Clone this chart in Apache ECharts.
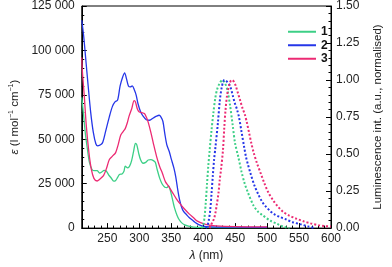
<!DOCTYPE html>
<html>
<head>
<meta charset="utf-8">
<script src="https://cdn.jsdelivr.net/npm/echarts@6/dist/echarts.min.js"></script>
<style>html,body{margin:0;padding:0;background:#fff}#c{width:392px;height:267px}</style>
</head>
<body>
<div id="c"></div>
<script>
// Absorption spectra: [wavelength nm, epsilon l mol-1 cm-1]
const abs1 = [[210,73600],[213,63000],[216,52000],[219,44000],[222,37000],[226,33000],[230,32300],[234,32300],[238,31000],[241,31500],[245,32500],[248,32300],[252,30000],[256,28200],[260,26400],[263,26800],[266,28500],[269,30200],[273,30500],[276,32000],[278,34800],[282,33900],[285,35000],[288,38000],[291,43000],[294,47700],[296,47000],[299,42200],[302,38500],[306,36500],[310,37000],[314,38300],[318,38500],[322,38000],[325,37000],[328,33000],[332,28000],[336,24700],[340,23000],[343,22800],[346,23800],[348,22000],[350,19200],[353,14500],[355,11500],[359,7200],[362,5000],[366,3100],[371,1800],[377,1100],[385,600],[400,400],[450,300],[500,300]];
const abs2 = [[210,117000],[213,108000],[216,96000],[220,80000],[224,65000],[228,54000],[232,47500],[235,46300],[240,47000],[243,48500],[247,54000],[253,62500],[258,68500],[262,71000],[266,72000],[270,80000],[274,85000],[277,87400],[280,84000],[283,80000],[286,79500],[289,80000],[292,78000],[295,75000],[298,70000],[302,65500],[306,63000],[311,61000],[316,60700],[322,62000],[327,63000],[331,63500],[334,62500],[337,60000],[340,53000],[343,47000],[347,43000],[350,39000],[354,34000],[357,29000],[360,22000],[363,16000],[366,12000],[369,9500],[374,7500],[378,6000],[383,4500],[387,3300],[393,2000],[400,1100],[410,700],[450,500],[500,400]];
const abs3 = [[210,96000],[211,88000],[214,74000],[217,58000],[221,43000],[225,33000],[229,28000],[234,26500],[238,27500],[244,29500],[249,34000],[253,38500],[258,40500],[263,42500],[267,47000],[271,52400],[275,54500],[278,56000],[281,59000],[284,63000],[288,67000],[292,71700],[294,71000],[297,67000],[300,65300],[304,65000],[308,64500],[311,62500],[314,59500],[318,54000],[322,47700],[327,40400],[332,34500],[336,31000],[341,26000],[346,23500],[352,20000],[358,16500],[364,13600],[370,11000],[378,8000],[385,5800],[391,3900],[400,2500],[410,1700],[420,1200],[450,800],[500,700]];
// Emission spectra: [wavelength nm, normalised intensity]
const em1 = [[397,0],[400,0.02],[402,0.07],[404,0.17],[406,0.3],[408,0.42],[410,0.52],[413,0.66],[416,0.78],[419,0.88],[422,0.94],[426,0.98],[430,1.0],[434,0.98],[438,0.93],[442,0.83],[446,0.7],[450,0.57],[455,0.48],[460,0.38],[465,0.3],[470,0.24],[479,0.15],[486,0.11],[492,0.09],[505,0.05],[515,0.03],[525,0.01],[535,0]];
const em2 = [[404,0],[407,0.02],[409,0.06],[411,0.12],[413,0.23],[415,0.35],[417,0.46],[419,0.54],[423,0.71],[426,0.86],[429,0.95],[433,1.0],[437,0.99],[442,0.96],[446,0.9],[449,0.85],[453,0.8],[456,0.75],[460,0.65],[464,0.55],[467,0.48],[470,0.43],[474,0.37],[480,0.29],[486,0.23],[492,0.18],[497,0.15],[505,0.115],[511,0.095],[520,0.075],[530,0.058],[540,0.04],[553,0.025],[565,0.01],[575,0]];
const em3 = [[410,0],[412,0.02],[415,0.045],[417,0.064],[419,0.1],[421,0.15],[424,0.24],[426,0.33],[428,0.4],[431,0.53],[433,0.68],[435,0.8],[437.5,0.9],[441,0.97],[444.5,1.0],[448,0.99],[451,0.96],[454.5,0.91],[458,0.86],[461.5,0.81],[465,0.77],[468.5,0.71],[472,0.64],[475.5,0.57],[479,0.51],[484,0.44],[490,0.37],[496,0.3],[502,0.24],[509,0.19],[516,0.15],[525,0.11],[534,0.086],[545,0.065],[557,0.046],[568,0.032],[580,0.02],[590,0.014],[600,0.01]];
const names = ['1','2','3'];
const colors = ['#3ccf86','#2536e8','#ec2a73'];
const xMajorTicks = [250,300,350,400,450,500,550,600];

const font = 'Liberation Sans, Arial, sans-serif';
const chart = echarts.init(document.getElementById('c'), null, {renderer:'canvas'});
const fmtEps = v => String(v).replace(/\B(?=(\d{3})+(?!\d))/g, ' ');
const lineBase = {type:'line', symbol:'none', smooth:0.3, animation:false};
const absSeries = [abs1,abs2,abs3].map((d,i)=>Object.assign({}, lineBase, {
  name:names[i], data:d, xAxisIndex:0, yAxisIndex:0,
  lineStyle:{color:colors[i], width:1.3}, itemStyle:{color:colors[i]}
}));
const emSeries = [em1,em2,em3].map((d,i)=>Object.assign({}, lineBase, {
  name:'em'+names[i], data:d, xAxisIndex:0, yAxisIndex:1,
  lineStyle:{color:colors[i], width:2, type:'dotted'}, itemStyle:{color:colors[i]}
}));
chart.setOption({
  animation:false,
  textStyle:{fontFamily:font},
  grid:{left:62, right:47, top:6, bottom:34, show:true, borderColor:'#000', borderWidth:1, backgroundColor:'transparent'},
  legend:{
    data:names, orient:'vertical', left:283, top:20, itemWidth:28, itemHeight:2, icon:'rect', itemGap:0,
    textStyle:{fontFamily:font, fontSize:12, fontWeight:'bold', color:'#111', lineHeight:13.5}
  },
  xAxis:[{
    type:'value', min:210, max:600, interval:10, position:'bottom',
    axisLine:{lineStyle:{color:'#000', width:1}},
    axisTick:{inside:true, length:2.5, lineStyle:{color:'#000'}},
    axisLabel:{margin:5, color:'#222', fontSize:12, fontFamily:font, formatter:v=> (v%50===0 ? String(v) : '')},
    splitLine:{show:false},
    name:'{i|λ} (nm)', nameLocation:'middle', nameGap:20,
    nameTextStyle:{fontSize:12, color:'#222', fontFamily:font, rich:{i:{fontStyle:'italic', fontSize:12, fontFamily:font, color:'#222'}}}
  },{
    type:'value', min:210, max:600, position:'bottom',
    axisLine:{show:false},
    axisTick:{show:true, inside:true, length:5, customValues:xMajorTicks, lineStyle:{color:'#000'}},
    axisLabel:{show:false}, splitLine:{show:false}
  }],
  yAxis:[{
    type:'value', min:0, max:125000, interval:25000, position:'left',
    axisLine:{show:true, lineStyle:{color:'#000', width:1}},
    axisTick:{inside:true, length:5, lineStyle:{color:'#000'}},
    minorTick:{show:true, splitNumber:5, length:2.5, lineStyle:{color:'#000'}},
    axisLabel:{margin:7, color:'#222', fontSize:12, fontFamily:font, formatter:fmtEps},
    splitLine:{show:false},
    name:'{i|ε} (l mol{s|−1} cm{s|−1})', nameLocation:'middle', nameGap:50, nameRotate:90,
    nameTextStyle:{fontSize:11.5, color:'#222', fontFamily:font, rich:{
      i:{fontStyle:'italic', fontSize:11.5, fontFamily:font, color:'#222'},
      s:{fontSize:7, fontFamily:font, color:'#222', verticalAlign:'bottom', padding:[0,0,6,0]}
    }}
  },{
    type:'value', min:0, max:1.5, interval:0.25, position:'right',
    axisLine:{show:true, lineStyle:{color:'#000', width:1}},
    axisTick:{inside:true, length:5, lineStyle:{color:'#000'}},
    minorTick:{show:true, splitNumber:5, length:2.5, lineStyle:{color:'#000'}},
    axisLabel:{margin:5, color:'#222', fontSize:12, fontFamily:font, formatter:v=>v.toFixed(2)},
    splitLine:{show:false},
    name:'Luminescence int. (a.u., normalised)', nameLocation:'middle', nameGap:41, nameRotate:90,
    nameTextStyle:{fontSize:11.5, color:'#222', fontFamily:font}
  }],
  series: absSeries.concat(emSeries)
});
</script>
</body>
</html>
